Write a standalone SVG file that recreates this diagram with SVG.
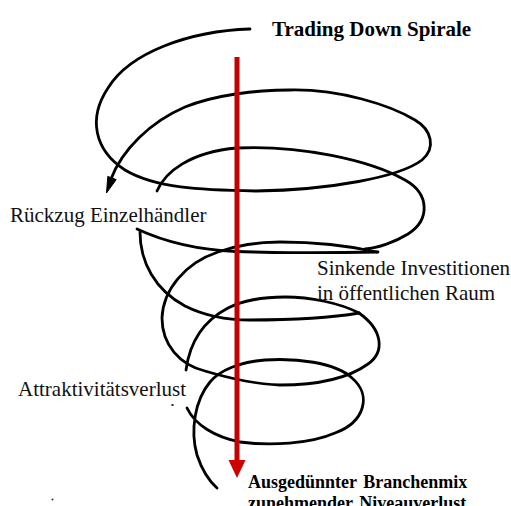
<svg xmlns="http://www.w3.org/2000/svg" width="511" height="506" viewBox="0 0 511 506">
<style>
.sp{fill:none;stroke:#000;stroke-width:2.8;stroke-linecap:round;stroke-linejoin:round}
.lbl{font-family:"Liberation Serif","Times New Roman",serif;font-size:21px;fill:#111}
.bold{font-family:"Liberation Serif","Times New Roman",serif;font-weight:bold;fill:#000}
</style>
<rect width="511" height="506" fill="#fff"/>
<g id="spiral">
<path class="sp" d="M250,29 C190,31 130,52 108,88 C88,118 94,150 125,170 C155,188 200,190 256,191 C330,190 400,177 422,160 C436,148 432,130 415,120 C390,105 340,89 290,90 C255,90 215,95 185,107 C150,122 122,150 111,179"/>
<polygon points="106.5,193 107.8,176.4 116.2,179.6" fill="#000" stroke="#000" stroke-width="1" stroke-linejoin="round"/>
<path class="sp" d="M157,191 C165,172 190,152 237,148 C300,145 370,160 405,180 C430,194 430,220 408,234 C395,242 378,248 365,249"/>
<path class="sp" d="M137,229 C165,242 200,250 236,251.5 C280,253 330,253 378,252"/>
<path class="sp" d="M140,232 C140,262 155,290 185,306 C205,316 225,320 250,320 C290,320 330,318 359,313"/>
<path class="sp" d="M377,252 C350,246 320,242 280,242 C255,242 235,246 218,252 C185,263 163,290 162,318 C162,345 180,365 205,371 C225,377 250,384 280,385 C320,385 350,377 368,364 C385,352 383,330 359,313"/>
<path class="sp" d="M359,313 C340,303 310,297 285,297 C260,297 240,302 228,308 C205,320 190,340 186,370"/>
<path class="sp" d="M187,408 C195,425 215,437 240,442 C270,446 310,444 335,433 C365,422 372,395 352,378 C335,362 295,358 265,360 C240,362 220,370 210,382 C195,400 190,430 197,455 C202,470 208,480 217,488"/>
<ellipse cx="172.5" cy="405" rx="1.3" ry="1" fill="#222"/>
<ellipse cx="52.5" cy="499.5" rx="1" ry="1" fill="#333"/>
</g>
<g id="downArrow">
<line x1="237" y1="57" x2="237" y2="462" stroke="#c40000" stroke-width="5"/>
<polygon points="228.5,460 245.5,460 237,478" fill="#d00000"/>
</g>
<g id="title"><text class="bold" x="272" y="36" font-size="21">Trading Down Spirale</text></g>
<g id="label-rueckzug"><text class="lbl" x="10" y="222">Rückzug Einzelhändler</text></g>
<g id="label-investitionen"><text class="lbl" x="317" y="275">Sinkende Investitionen</text><text class="lbl" x="317" y="300">in öffentlichen Raum</text></g>
<g id="label-attraktivitaet"><text class="lbl" x="18" y="396">Attraktivitätsverlust</text></g>
<g id="label-branchenmix"><text class="bold" x="248" y="488" font-size="18" word-spacing="2">Ausgedünnter Branchenmix</text><text class="bold" x="248" y="509" font-size="18" word-spacing="2">zunehmender Niveauverlust</text></g>
</svg>
